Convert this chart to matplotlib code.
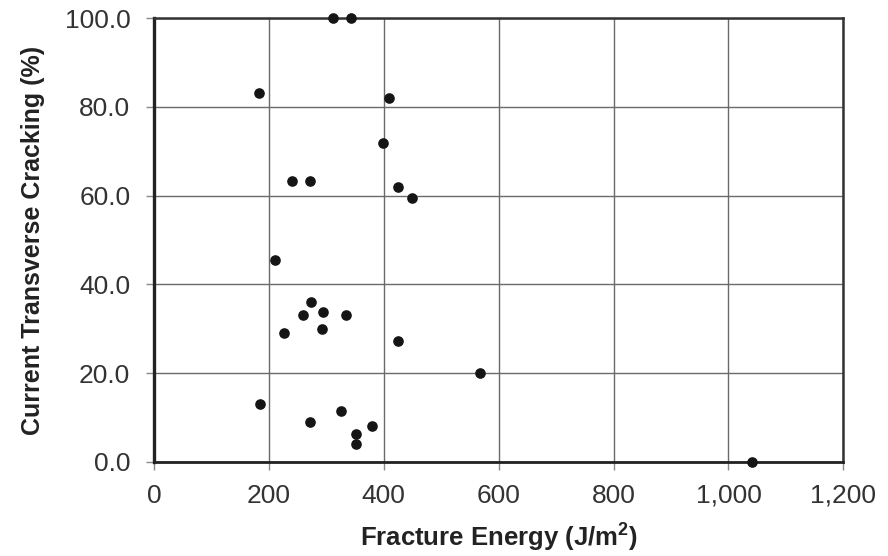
import matplotlib.pyplot as plt
from matplotlib.ticker import FuncFormatter, MultipleLocator

plt.rcParams['font.family'] = ['Liberation Sans', 'DejaVu Sans']

# fracture energy (J/m^2) and current transverse cracking (%)
energy = [311, 343, 183, 409, 399, 240, 272, 424, 450,
          211, 273, 260, 294, 335, 226, 292, 424, 568,
          184, 272, 325, 380, 352, 352, 1041]
cracking = [100.0, 100.0, 83.2, 82.1, 71.8, 63.2, 63.2, 62.0, 59.4,
            45.5, 36.0, 33.1, 33.7, 33.1, 29.0, 30.0, 27.2, 20.1,
            13.0, 9.0, 11.4, 8.0, 6.2, 4.1, 0.0]

fig = plt.figure(figsize=(8.88, 5.56), dpi=100)
ax = fig.add_axes([0.1734, 0.1696, 0.7763, 0.7975])

ax.scatter(energy, cracking, s=44, color='#151515', zorder=3, clip_on=False)

ax.set_xlim(0, 1200)
ax.set_ylim(0, 100)
ax.xaxis.set_major_locator(MultipleLocator(200))
ax.yaxis.set_major_locator(MultipleLocator(20))
ax.xaxis.set_major_formatter(FuncFormatter(lambda v, p: f"{v:,.0f}"))
ax.yaxis.set_major_formatter(FuncFormatter(lambda v, p: f"{v:.1f}"))

ax.grid(True, color='#6a6a6a', linewidth=1.0)
ax.set_axisbelow(True)

for side in ['top', 'right']:
    ax.spines[side].set_color('#333333')
    ax.spines[side].set_linewidth(1.8)
ax.spines['left'].set_color('#222222')
ax.spines['left'].set_linewidth(2.4)
ax.spines['bottom'].set_color('#222222')
ax.spines['bottom'].set_linewidth(2.0)

ax.tick_params(axis='both', direction='out', length=6, width=1, color='#888888',
               labelsize=19, labelcolor='#333333')
ax.tick_params(axis='y', pad=11)
ax.tick_params(axis='x', pad=10)

ax.set_xlabel('Fracture Energy (J/m$^\\mathregular{2}$)', fontsize=18.5,
              fontweight='bold', color='#222222', labelpad=9)
ax.set_ylabel('Current Transverse Cracking (%)', fontsize=18,
              fontweight='bold', color='#222222', labelpad=14)

fig.savefig('out.png', dpi=100)
